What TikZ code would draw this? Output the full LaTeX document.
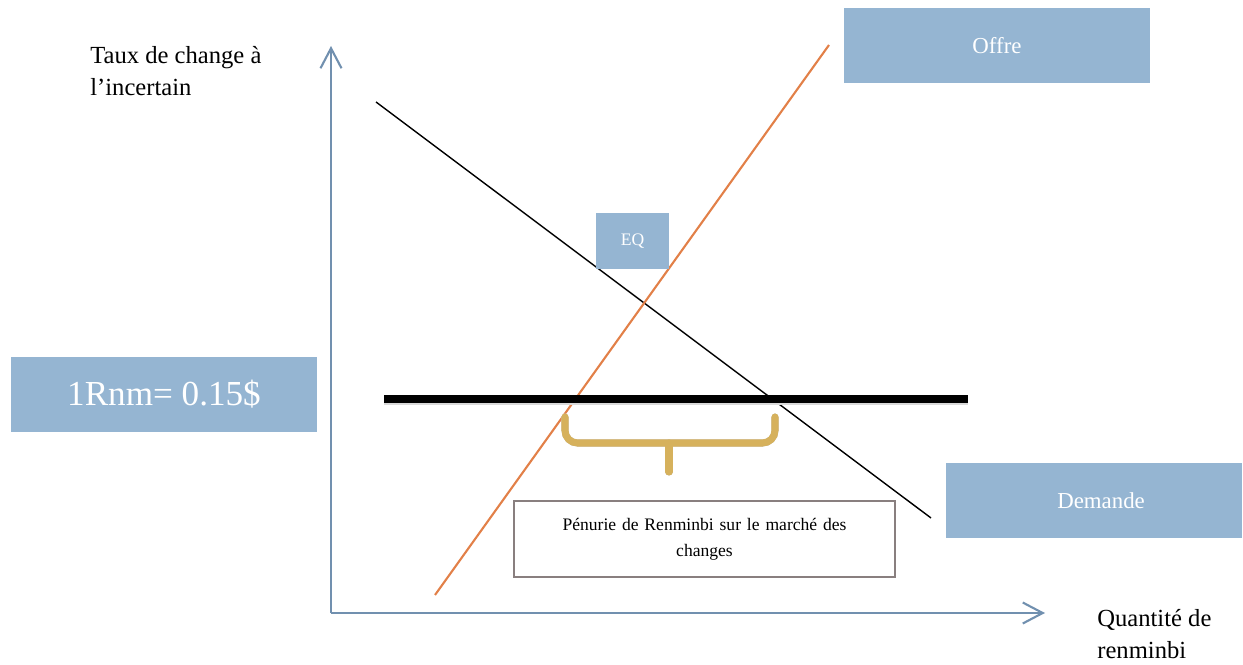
\documentclass[tikz,border=0pt]{standalone}
\usepackage{fontspec}
\setmainfont{Liberation Serif}
\usetikzlibrary{arrows.meta, positioning}

\definecolor{axisblue}{RGB}{113,144,175}
\definecolor{boxblue}{RGB}{149,181,210}
\definecolor{supplyorange}{RGB}{226,128,72}
\definecolor{bracegold}{RGB}{214,177,92}
\definecolor{framegray}{RGB}{137,127,127}

\tikzset{
    axisline/.style={axisblue, line width=1.2pt, -{Straight Barb[length=4mm, width=4.2mm, line width=1.2pt]}},
    labelbox/.style={rectangle, fill=boxblue, text=white, inner sep=0pt},
    axislabel/.style={anchor=north west, inner sep=0pt, align=left, font=\fontsize{14}{18.5}\selectfont},
    bracepath/.style={bracegold, line width=4pt, line cap=round, rounded corners=2.5mm}
}

\begin{document}
\begin{tikzpicture}[x=0.02cm, y=-0.02cm]

    \useasboundingbox (0,0) rectangle (1243,665);

    % Axes
    \coordinate (origin) at (331,613);
    \coordinate (ytop) at (331,46);
    \coordinate (xend) at (1045,613);
    \draw[axisline] (origin) -- (ytop);
    \draw[axisline] (origin) -- (xend);

    % Axis titles
    \node[axislabel] (ytitle) at (90,46) {Taux de change à\\l’incertain};
    \node[axislabel] (xtitle) at (1097,609) {Quantité de\\renminbi};

    % Demand curve
    \coordinate (dstart) at (376,102);
    \coordinate (dend) at (931,518);
    \draw[black, line width=0.8pt] (dstart) -- (dend);

    % Supply curve
    \coordinate (sstart) at (435,595);
    \coordinate (send) at (829,45);
    \draw[supplyorange, line width=1.2pt] (sstart) -- (send);

    % Fixed rate
    \coordinate (pstart) at (384,399);
    \coordinate (pend) at (968,399);
    \draw[black!15, line width=4pt] ([yshift=-1.5pt]pstart) -- ([yshift=-1.5pt]pend);
    \draw[black, line width=4pt] (pstart) -- (pend);

    % Shortage brace
    \coordinate (bleft) at (565,417);
    \coordinate (bright) at (775,417);
    \coordinate (bmid) at (669,443);
    \coordinate (btip) at (669,472);
    \begin{scope}[bracepath, black!25, shift={(2,4)}]
        \draw (bleft) -- (bleft |- bmid) -- (bright |- bmid) -- (bright);
        \draw (bmid) -- (btip);
    \end{scope}
    \draw[bracepath] (bleft) -- (bleft |- bmid) -- (bright |- bmid) -- (bright);
    \draw[bracepath] (bmid) -- (btip);

    % Labels
    \node[labelbox, minimum width=6.12cm, minimum height=1.5cm,
          font=\fontsize{13}{16}\selectfont] (offre) at (997,45.5) {Offre};
    \node[labelbox, minimum width=1.46cm, minimum height=1.12cm,
          font=\fontsize{10}{12}\selectfont] (eq) at (632.5,241) {EQ};
    \node[labelbox, minimum width=6.12cm, minimum height=1.5cm,
          font=\fontsize{20}{24}\selectfont] (taux) at (164,394.5) {1Rnm= 0.15\$};
    \node[labelbox, minimum width=5.92cm, minimum height=1.5cm,
          font=\fontsize{13}{16}\selectfont] (demande) at (1094,500.5) {\hspace{8pt}Demande};

    % Shortage note
    \node[rectangle, draw=framegray, line width=1.1pt, fill=white,
          minimum width=7.62cm, minimum height=1.52cm, text width=7.2cm,
          align=center, font=\fontsize{10}{15}\selectfont] (penurie) at (704.5,539)
          {Pénurie de Renminbi sur le marché des\\changes};

\end{tikzpicture}
\end{document}
